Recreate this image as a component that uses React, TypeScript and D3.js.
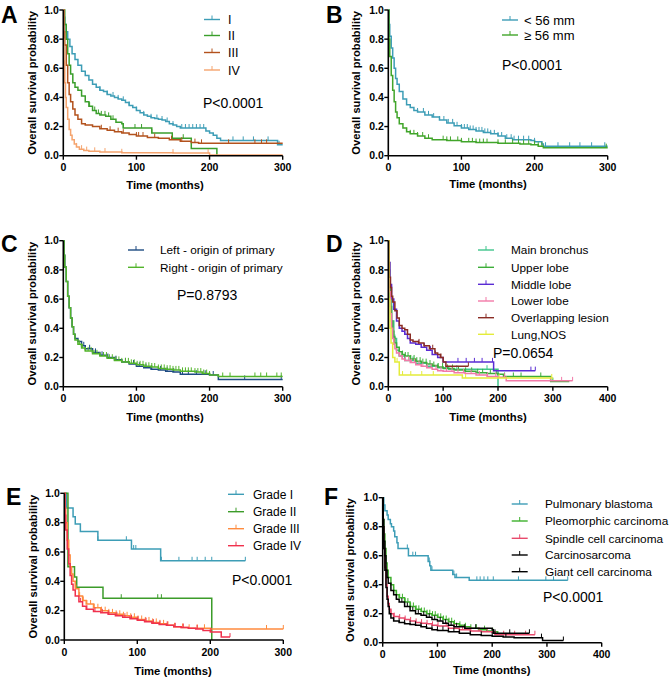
import React from 'react';
import * as d3 from 'd3';

type Pt = [number, number];

// ---------- Panel A (stage) ----------
const aStageI: Pt[] = [[0,1],[1,0.95],[2,0.9],[4,0.85],[6,0.8],[9,0.75],[12,0.7],[16,0.66],[20,0.62],[25,0.58],[30,0.55],[35,0.52],[40,0.49],[45,0.47],[50,0.45],[55,0.44],[60,0.42],[65,0.41],[70,0.4],[75,0.39],[80,0.38],[85,0.365],[90,0.345],[95,0.33],[100,0.31],[105,0.295],[110,0.28],[115,0.27],[120,0.26],[125,0.255],[130,0.25],[135,0.245],[140,0.235],[145,0.22],[150,0.21],[155,0.2],[160,0.19],[195,0.17],[200,0.155],[205,0.14],[210,0.12],[215,0.105],[293,0.075],[300,0.075]];
const aStageII: Pt[] = [[0,1],[2,0.9],[4,0.8],[6,0.7],[8,0.62],[10,0.56],[13,0.5],[16,0.47],[20,0.45],[25,0.41],[30,0.37],[35,0.34],[40,0.31],[45,0.29],[50,0.28],[58,0.27],[65,0.25],[72,0.23],[80,0.22],[82,0.19],[121,0.155],[149,0.12],[175,0.05],[210,0]];
const aStageIII: Pt[] = [[0,1],[1,0.85],[2,0.76],[4,0.62],[6,0.5],[8,0.42],[10,0.37],[13,0.32],[16,0.28],[20,0.25],[25,0.22],[30,0.21],[40,0.2],[50,0.185],[60,0.175],[70,0.165],[80,0.155],[90,0.145],[100,0.135],[115,0.125],[130,0.12],[145,0.11],[160,0.1],[175,0.09],[185,0.085],[300,0.085]];
const aStageIV: Pt[] = [[0,1],[0.5,0.8],[1,0.65],[2,0.5],[3,0.4],[4,0.33],[6,0.25],[8,0.18],[10,0.14],[12,0.11],[15,0.08],[18,0.06],[22,0.045],[28,0.035],[35,0.03],[50,0.025],[80,0.02],[150,0.018],[200,0.005],[300,0.005]];
const aCensI = [50,60,68,75,82,90,100,110,120,128,135,142,150,162,167,172,177,182,187,192,232,246,260,280,295];
const aCensII = [36,43,48,52,57,62,68,82,98,107,121,164];
const aCensIII = [52,64,75,82,100,103,109,125,148,162,180,189,226,262,271,278];
const aCensIV = [18,25,32,43,57,80,150,198];

// ---------- Panel B (tumour size) ----------
const bSmall: Pt[] = [[0,1],[1,0.9],[2,0.82],[4,0.74],[6,0.67],[8,0.6],[10,0.53],[12,0.49],[15,0.44],[20,0.39],[25,0.35],[30,0.33],[35,0.31],[40,0.3],[50,0.28],[60,0.265],[70,0.245],[80,0.225],[90,0.205],[100,0.19],[110,0.18],[120,0.17],[130,0.16],[140,0.15],[150,0.135],[160,0.12],[170,0.11],[195,0.105],[200,0.095],[210,0.08],[212,0.065],[300,0.065]];
const bLarge: Pt[] = [[0,1],[1,0.8],[2,0.68],[4,0.55],[6,0.45],[8,0.37],[10,0.3],[12,0.26],[15,0.22],[20,0.19],[25,0.165],[30,0.15],[40,0.135],[50,0.12],[60,0.11],[80,0.105],[100,0.095],[120,0.09],[150,0.085],[180,0.08],[195,0.075],[205,0.065],[212,0.055],[300,0.055]];
const bCensSmall = [40,48,55,62,70,76,82,88,94,100,104,108,112,116,120,124,128,132,136,140,145,150,155,162,168,172,178,185,192,200,215,232,248,262,278,296];
const bCensLarge = [25,30,35,40,47,55,75,80,85,95,100,110,115,120,125,130,135,150,160,170,178,185,192,200,205,210,298];

// ---------- Panel C (laterality) ----------
const cLeft: Pt[] = [[0,1],[1,0.9],[2,0.82],[4,0.72],[6,0.62],[8,0.54],[10,0.47],[12,0.41],[14,0.36],[16,0.33],[20,0.31],[25,0.28],[30,0.26],[40,0.235],[50,0.215],[60,0.2],[70,0.185],[80,0.17],[90,0.155],[100,0.14],[110,0.13],[120,0.12],[130,0.115],[140,0.105],[150,0.1],[160,0.085],[200,0.08],[212,0.05],[300,0.05]];
const cRight: Pt[] = [[0,1],[1,0.9],[2,0.82],[4,0.72],[6,0.62],[8,0.54],[10,0.47],[12,0.41],[14,0.36],[16,0.32],[20,0.29],[25,0.265],[30,0.245],[40,0.225],[50,0.21],[60,0.195],[70,0.18],[80,0.17],[90,0.16],[100,0.15],[110,0.14],[120,0.135],[130,0.125],[140,0.12],[150,0.115],[160,0.105],[180,0.1],[190,0.09],[200,0.08],[212,0.07],[300,0.07]];
const cCensLeft = [28,36,44,53,61,72,85,96,104,113,121,133,142,151,163,171,182,194,205,248,298];
const cCensRight = [22,26,30,34,38,42,46,50,55,59,63,67,72,76,80,85,89,93,97,101,105,109,113,117,121,125,130,134,138,142,146,150,154,158,163,167,171,175,180,184,188,192,196,200,218,228,262,270,278,292,298];

// ---------- Panel D (primary site) ----------
const dMain: Pt[] = [[0,1],[1,0.8],[3,0.6],[6,0.45],[10,0.33],[15,0.25],[20,0.21],[30,0.18],[50,0.16],[70,0.14],[90,0.13],[110,0.12],[200,0]];
const dUpper: Pt[] = [[0,1],[1,0.85],[2,0.7],[4,0.55],[6,0.45],[8,0.38],[10,0.34],[12,0.3],[15,0.27],[20,0.24],[25,0.22],[30,0.21],[40,0.19],[50,0.175],[60,0.165],[70,0.155],[80,0.145],[90,0.135],[100,0.125],[120,0.115],[140,0.105],[160,0.095],[180,0.09],[200,0.085],[210,0.07],[296,0.035],[330,0.035]];
const dMiddle: Pt[] = [[0,1],[1,0.85],[3,0.7],[6,0.6],[10,0.53],[15,0.45],[20,0.4],[25,0.38],[30,0.36],[35,0.33],[40,0.3],[50,0.29],[60,0.27],[70,0.25],[80,0.22],[90,0.2],[100,0.17],[192,0.11],[268,0.11]];
const dLower: Pt[] = [[0,1],[1,0.8],[2,0.65],[4,0.5],[6,0.4],[8,0.33],[10,0.29],[12,0.26],[15,0.23],[20,0.21],[25,0.19],[30,0.18],[40,0.165],[50,0.15],[60,0.14],[70,0.13],[80,0.12],[90,0.11],[100,0.105],[120,0.095],[140,0.09],[160,0.08],[180,0.07],[200,0.065],[215,0.04],[336,0.04]];
const dOverlap: Pt[] = [[0,1],[1,0.85],[2,0.75],[4,0.68],[6,0.62],[8,0.58],[12,0.52],[16,0.47],[20,0.42],[25,0.4],[30,0.39],[35,0.36],[40,0.32],[45,0.31],[55,0.3],[65,0.28],[75,0.26],[85,0.23],[90,0.22],[95,0.2],[100,0.17],[105,0.14],[146,0.14]];
const dNos: Pt[] = [[0,1],[1,0.6],[3,0.4],[5,0.3],[8,0.2],[12,0.17],[20,0.08],[135,0.06],[300,0.06]];
const dCensMain = [12,20,45,90,125,180];
const dCensUpper = [20,26,31,36,41,47,52,58,63,69,76,83,91,99,108,117,128,141,152,163,172,186,197,212,228,242,278,300];
const dCensMiddle = [30,55,66,77,86,127,142,157,171,190,260,268];
const dCensLower = [15,21,26,31,37,42,48,56,63,71,78,87,96,106,116,127,137,151,166,181,196,212,296,316,336];
const dCensOverlap = [35,56,81,96,146];
const dCensNos = [16,26,41,61,82,141,202,298];

// ---------- Panel E (grade) ----------
const eGradeI: Pt[] = [[0,1],[3,0.9],[12,0.84],[15,0.79],[22,0.74],[46,0.68],[92,0.62],[132,0.54],[248,0.54]];
const eGradeII: Pt[] = [[0,1],[5,0.5],[14,0.43],[17,0.36],[53,0.285],[202,0]];
const eGradeIII: Pt[] = [[0,1],[1,0.9],[2,0.8],[4,0.68],[6,0.58],[8,0.5],[10,0.45],[12,0.4],[15,0.35],[20,0.3],[25,0.27],[30,0.245],[40,0.22],[50,0.2],[60,0.185],[70,0.175],[80,0.165],[90,0.155],[100,0.14],[110,0.13],[120,0.12],[130,0.11],[140,0.1],[150,0.09],[160,0.085],[170,0.08],[200,0.075],[300,0.075]];
const eGradeIV: Pt[] = [[0,1],[1,0.85],[2,0.75],[4,0.62],[6,0.52],[8,0.44],[10,0.38],[12,0.34],[15,0.3],[20,0.26],[25,0.23],[30,0.21],[40,0.195],[50,0.185],[60,0.175],[70,0.165],[80,0.155],[90,0.145],[100,0.135],[110,0.125],[120,0.115],[130,0.105],[140,0.1],[150,0.09],[160,0.085],[170,0.08],[180,0.075],[190,0.065],[200,0.055],[215,0.02],[227,0.02]];
const eCensI = [46,85,95,98,133,157,175,182,193,202,248];
const eCensII = [78,128,133];
const eCensIII = [16,21,26,31,36,41,46,51,56,61,66,71,76,81,86,91,96,101,106,111,116,121,126,131,136,142,151,162,171,182,192,277,300];
const eCensIV = [22,31,42,52,61,72,83,92,101,112,122,131,141,152,163,182,201,227];

// ---------- Panel F (histology) ----------
const fBlastoma: Pt[] = [[0,1],[2,0.95],[4,0.91],[8,0.88],[10,0.85],[14,0.82],[16,0.8],[20,0.77],[22,0.73],[26,0.69],[28,0.65],[47,0.6],[83,0.56],[86,0.53],[88,0.5],[128,0.47],[132,0.45],[158,0.43],[338,0.43]];
const fPleo: Pt[] = [[0,1],[1,0.85],[2,0.75],[4,0.65],[6,0.55],[8,0.5],[10,0.45],[15,0.4],[20,0.36],[25,0.33],[30,0.31],[40,0.28],[50,0.25],[60,0.23],[70,0.215],[80,0.2],[90,0.19],[100,0.175],[110,0.16],[120,0.145],[130,0.13],[140,0.12],[150,0.11],[160,0.1],[175,0.09],[190,0.08],[200,0.075],[210,0.06]];
const fSpindle: Pt[] = [[0,1],[1,0.8],[2,0.65],[4,0.52],[6,0.4],[8,0.32],[10,0.27],[12,0.23],[15,0.2],[20,0.18],[30,0.17],[40,0.16],[50,0.15],[60,0.14],[70,0.135],[80,0.13],[90,0.12],[100,0.115],[120,0.1],[140,0.09],[160,0.08],[180,0.075],[200,0.07],[205,0.055],[278,0.055]];
const fCarcino: Pt[] = [[0,1],[1,0.85],[2,0.7],[4,0.6],[6,0.5],[8,0.45],[10,0.41],[15,0.36],[20,0.33],[25,0.3],[30,0.28],[40,0.25],[50,0.22],[60,0.2],[70,0.19],[80,0.175],[90,0.16],[100,0.15],[110,0.135],[120,0.12],[130,0.11],[150,0.1],[200,0.09],[202,0.065],[268,0.065]];
const fGiant: Pt[] = [[0,1],[1,0.8],[2,0.65],[4,0.5],[6,0.38],[8,0.3],[10,0.25],[12,0.2],[15,0.17],[20,0.15],[30,0.14],[40,0.13],[50,0.125],[60,0.12],[70,0.11],[80,0.1],[90,0.09],[100,0.085],[120,0.075],[140,0.065],[160,0.055],[180,0.05],[200,0.045],[220,0.04],[240,0.035],[292,0.015],[330,0.015]];
const fCensBlastoma = [45,55,60,85,90,130,135,172,178,185,192,202,248,298,312,338];
const fCensPleo = [20,25,31,36,41,46,51,56,61,66,71,76,81,86,91,96,101,106,111,116,121,126,131,141,151,161,171,186,201];
const fCensSpindle = [15,21,31,41,51,61,71,81,91,101,116,131,146,161,176,191,206,221,241,261,278];
const fCensCarcino = [25,35,45,55,65,75,85,95,105,115,125,135,150,170,205,232,268];
const fCensGiant = [20,30,40,50,60,70,80,90,100,110,120,130,140,160,180,200,225,290,330];

const yTickValues = [0, 0.2, 0.4, 0.6, 0.8, 1.0];

interface Series { name: string; color: string; data: Pt[]; cens: number[] }
interface Panel {
  letter: string; lx: number; ly: number;
  left: number; right: number; top: number; bottom: number;
  xMax: number; xTicks: number[];
  titleX: number; timeX: number; timeY: number;
  legX: number; legTextX: number; legYs: number[]; legFs: number;
  pText: string; pX: number; pY: number;
  series: Series[];
}

const panels: Panel[] = [
  { letter: 'A', lx: 1, ly: 23, left: 63.3, right: 282.7, top: 10, bottom: 155.7, xMax: 300, xTicks: [0,100,200,300],
    titleX: 35.5, timeX: 165, timeY: 189, legX: 204, legTextX: 228, legYs: [19.5,35.5,52.5,70], legFs: 12.5,
    pText: 'P<0.0001', pX: 203, pY: 108,
    series: [
      { name: 'I', color: '#3d9db6', data: aStageI, cens: aCensI },
      { name: 'II', color: '#3b9f2c', data: aStageII, cens: aCensII },
      { name: 'III', color: '#b3521d', data: aStageIII, cens: aCensIII },
      { name: 'IV', color: '#f5a46e', data: aStageIV, cens: aCensIV },
    ] },
  { letter: 'B', lx: 326, ly: 23, left: 388.3, right: 607.7, top: 10, bottom: 155.7, xMax: 300, xTicks: [0,100,200,300],
    titleX: 360, timeX: 488, timeY: 188, legX: 502, legTextX: 524, legYs: [20,35], legFs: 13,
    pText: 'P<0.0001', pX: 502, pY: 70,
    series: [
      { name: '< 56 mm', color: '#3d9db6', data: bSmall, cens: bCensSmall },
      { name: '≥ 56 mm', color: '#41a52a', data: bLarge, cens: bCensLarge },
    ] },
  { letter: 'C', lx: 1, ly: 252, left: 63.3, right: 282.7, top: 240.7, bottom: 386.7, xMax: 300, xTicks: [0,100,200,300],
    titleX: 35.5, timeX: 165, timeY: 421, legX: 128, legTextX: 160, legYs: [250,267.3], legFs: 11.8,
    pText: 'P=0.8793', pX: 177, pY: 300,
    series: [
      { name: 'Left - origin of primary', color: '#1e4b82', data: cLeft, cens: cCensLeft },
      { name: 'Right - origin of primary', color: '#52b42a', data: cRight, cens: cCensRight },
    ] },
  { letter: 'D', lx: 326, ly: 252, left: 388.3, right: 607.7, top: 240.7, bottom: 386.7, xMax: 400, xTicks: [0,100,200,300,400],
    titleX: 360, timeX: 488, timeY: 421, legX: 478, legTextX: 511, legYs: [250,267.3,284.3,301,317.7,334.3], legFs: 11.8,
    pText: 'P=0.0654', pX: 493, pY: 358,
    series: [
      { name: 'Main bronchus', color: '#3fc58c', data: dMain, cens: dCensMain },
      { name: 'Upper lobe', color: '#3cae38', data: dUpper, cens: dCensUpper },
      { name: 'Middle lobe', color: '#5a2cd4', data: dMiddle, cens: dCensMiddle },
      { name: 'Lower lobe', color: '#f27aa8', data: dLower, cens: dCensLower },
      { name: 'Overlapping lesion', color: '#8a2c24', data: dOverlap, cens: dCensOverlap },
      { name: 'Lung,NOS', color: '#e4ec3a', data: dNos, cens: dCensNos },
    ] },
  { letter: 'E', lx: 6, ly: 505, left: 64.3, right: 283.3, top: 493.3, bottom: 640, xMax: 300, xTicks: [0,100,200,300],
    titleX: 36.5, timeX: 173, timeY: 675, legX: 228, legTextX: 253, legYs: [494.3,511.7,528.7,545.7], legFs: 12,
    pText: 'P<0.0001', pX: 232, pY: 585,
    series: [
      { name: 'Grade I', color: '#3d9db6', data: eGradeI, cens: eCensI },
      { name: 'Grade II', color: '#3c9c2a', data: eGradeII, cens: eCensII },
      { name: 'Grade III', color: '#ff8b3e', data: eGradeIII, cens: eCensIII },
      { name: 'Grade IV', color: '#f0314d', data: eGradeIV, cens: eCensIV },
    ] },
  { letter: 'F', lx: 324, ly: 505, left: 382.7, right: 601.7, top: 497.7, bottom: 642.7, xMax: 400, xTicks: [0,100,200,300,400],
    titleX: 354, timeX: 491.7, timeY: 674, legX: 511.7, legTextX: 545, legYs: [504,521,538.3,555,571.7], legFs: 11.8,
    pText: 'P<0.0001', pX: 543, pY: 602,
    series: [
      { name: 'Pulmonary blastoma', color: '#3d9db6', data: fBlastoma, cens: fCensBlastoma },
      { name: 'Pleomorphic carcinoma', color: '#3db02c', data: fPleo, cens: fCensPleo },
      { name: 'Spindle cell carcinoma', color: '#e84a6c', data: fSpindle, cens: fCensSpindle },
      { name: 'Carcinosarcoma', color: '#000000', data: fCarcino, cens: fCensCarcino },
      { name: 'Giant cell carcinoma', color: '#000000', data: fGiant, cens: fCensGiant },
    ] },
];

function survivalAt(data: Pt[], t: number): number {
  let s = data[0][1];
  for (const [tt, v] of data) {
    if (tt <= t) s = v; else break;
  }
  return s;
}

const FONT = '"Liberation Sans", Arial, Helvetica, sans-serif';

function KMPanel({ p }: { p: Panel }) {
  const x = d3.scaleLinear().domain([0, p.xMax]).range([p.left, p.right]);
  const y = d3.scaleLinear().domain([0, 1]).range([p.bottom, p.top]);
  const line = d3.line<Pt>().x(d => x(d[0])).y(d => y(d[1])).curve(d3.curveStepAfter);
  const midY = (p.top + p.bottom) / 2;
  return (
    <g>
      <text x={p.lx} y={p.ly} fontFamily={FONT} fontWeight="bold" fontSize={23}>{p.letter}</text>
      {p.series.map((s, i) => (
        <g key={i}>
          <path d={line(s.data) || ''} fill="none" stroke={s.color} strokeWidth={1.5} />
          {s.cens.map((c, j) => {
            const cx = x(c); const cy = y(survivalAt(s.data, c));
            return <line key={j} x1={cx} x2={cx} y1={cy} y2={cy - 4} stroke={s.color} strokeWidth={1} />;
          })}
        </g>
      ))}
      <line x1={p.left} x2={p.left} y1={p.top} y2={p.bottom} stroke="#000" strokeWidth={1.6} />
      <line x1={p.left} x2={p.right} y1={p.bottom} y2={p.bottom} stroke="#000" strokeWidth={1.6} />
      {yTickValues.map((v, i) => (
        <g key={'y' + i}>
          <line x1={p.left - 4} x2={p.left} y1={y(v)} y2={y(v)} stroke="#000" strokeWidth={1.4} />
          <text x={p.left - 4.5} y={y(v)} dy="0.36em" textAnchor="end" fontFamily={FONT} fontWeight="bold" fontSize={10.5}>{d3.format('.1f')(v)}</text>
        </g>
      ))}
      {p.xTicks.map((v, i) => (
        <g key={'x' + i}>
          <line x1={x(v)} x2={x(v)} y1={p.bottom} y2={p.bottom + 4} stroke="#000" strokeWidth={1.4} />
          <text x={x(v)} y={p.bottom + 15.5} textAnchor="middle" fontFamily={FONT} fontWeight="bold" fontSize={10.5}>{v}</text>
        </g>
      ))}
      <text transform={`translate(${p.titleX},${midY}) rotate(-90)`} textAnchor="middle" fontFamily={FONT} fontWeight="bold" fontSize={11.2}>Overall survival probability</text>
      <text x={p.timeX} y={p.timeY} textAnchor="middle" fontFamily={FONT} fontWeight="bold" fontSize={11.3}>Time (months)</text>
      {p.series.map((s, i) => {
        const ly = p.legYs[i];
        const lx1 = p.legX, lx2 = p.legX + 16;
        return (
          <g key={'l' + i}>
            <line x1={lx1} x2={lx2} y1={ly} y2={ly} stroke={s.color} strokeWidth={1.4} />
            <line x1={(lx1 + lx2) / 2} x2={(lx1 + lx2) / 2} y1={ly} y2={ly - 4} stroke={s.color} strokeWidth={1} />
            <text x={p.legTextX} y={ly} dy="0.36em" fontFamily={FONT} fontSize={p.legFs}>{s.name}</text>
          </g>
        );
      })}
      <text x={p.pX} y={p.pY} fontFamily={FONT} fontSize={14}>{p.pText}</text>
    </g>
  );
}

export default function App() {
  return (
    <svg width={669} height={682} style={{ position: 'absolute', left: 0, top: 0, background: '#fff' }}>
      <rect x={0} y={0} width={669} height={682} fill="#fff" />
      {panels.map((p, i) => <KMPanel key={i} p={p} />)}
    </svg>
  );
}
